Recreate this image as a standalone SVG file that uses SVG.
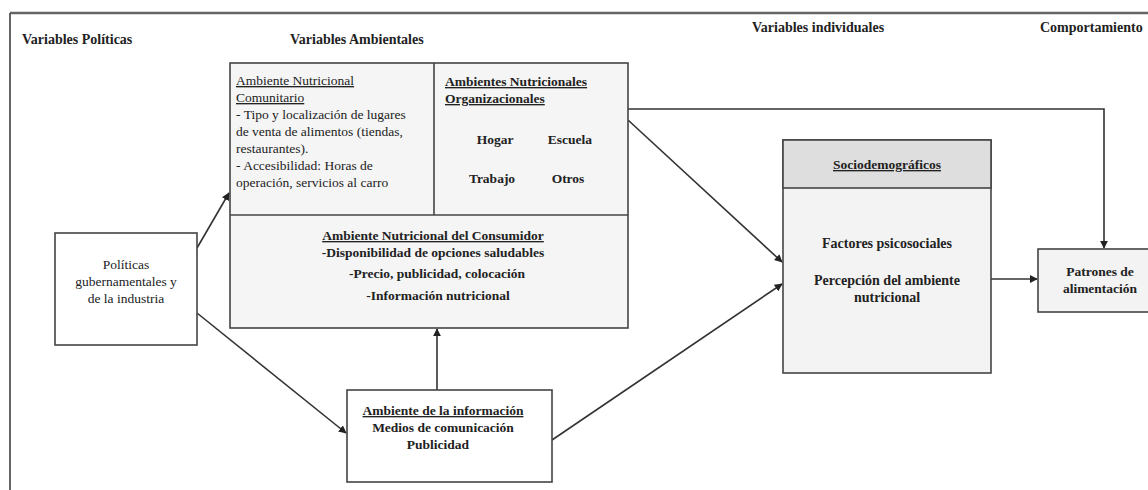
<svg xmlns="http://www.w3.org/2000/svg" width="1148" height="490" viewBox="0 0 1148 490">
<style>
text{font-family:"Liberation Serif","Times New Roman",serif;fill:#222;font-size:13.5px}
.b{font-weight:bold}
.u{text-decoration:underline}
.m{text-anchor:middle}
.h{font-size:14px;font-weight:bold}
.s{font-size:14px}
.box{stroke:#444;stroke-width:1.6}
.ln{stroke:#333;stroke-width:1.6;fill:none}
</style>
<defs>
<marker id="ah" viewBox="0 0 10 10" refX="9" refY="5" markerWidth="8" markerHeight="8" markerUnits="userSpaceOnUse" orient="auto">
<path d="M0,0 L10,5 L0,10 z" fill="#222"/>
</marker>
</defs>
<rect width="1148" height="490" fill="#fff"/>
<g id="frame">
<line x1="10" y1="13" x2="1148" y2="13" stroke="#666" stroke-width="2.5"/>
<line x1="10" y1="13" x2="10" y2="490" stroke="#555" stroke-width="1.8"/>
</g>
<g id="headers">
<text class="h" x="22" y="44">Variables Políticas</text>
<text class="h" x="290" y="44">Variables Ambientales</text>
<text class="h" x="752" y="32">Variables individuales</text>
<text class="h" x="1040" y="32">Comportamiento</text>
</g>
<g id="connectors">
<line class="ln" x1="197" y1="248" x2="229" y2="193" marker-end="url(#ah)"/>
<line class="ln" x1="197" y1="313" x2="346" y2="433" marker-end="url(#ah)"/>
<line class="ln" x1="628" y1="120" x2="782" y2="262" marker-end="url(#ah)"/>
<line class="ln" x1="552" y1="440" x2="782" y2="284" marker-end="url(#ah)"/>
<polyline class="ln" points="628,109 1104,109 1104,248" marker-end="url(#ah)"/>
<line class="ln" x1="991" y1="279" x2="1037" y2="279" marker-end="url(#ah)"/>
<line class="ln" x1="437" y1="390" x2="437" y2="329" marker-end="url(#ah)"/>
</g>
<g id="ambientes">
<rect class="box" x="230" y="63" width="398" height="265" fill="#f5f5f5"/>
<line class="box" x1="434" y1="63" x2="434" y2="215"/>
<line class="box" x1="230" y1="215" x2="628" y2="215"/>
<text class="u" x="236" y="85">Ambiente Nutricional</text>
<text class="u" x="236" y="102">Comunitario</text>
<text x="236" y="119">- Tipo y localización de lugares</text>
<text x="236" y="136">de venta de alimentos (tiendas,</text>
<text x="236" y="153">restaurantes).</text>
<text x="236" y="170">- Accesibilidad: Horas de</text>
<text x="236" y="187">operación, servicios al carro</text>
<text class="b u" x="445" y="86">Ambientes Nutricionales</text>
<text class="b u" x="445" y="103">Organizacionales</text>
<text class="b m" x="495" y="144">Hogar</text>
<text class="b m" x="570" y="144">Escuela</text>
<text class="b m" x="492" y="183">Trabajo</text>
<text class="b m" x="568" y="183">Otros</text>
<text class="b u m" x="433" y="240">Ambiente Nutricional del Consumidor</text>
<text class="b m" x="433" y="257">-Disponibilidad de opciones saludables</text>
<text class="b m" x="437" y="278">-Precio, publicidad, colocación</text>
<text class="b m" x="438" y="300">-Información nutricional</text>
</g>
<g id="politicas">
<rect class="box" x="55" y="233" width="142" height="112" fill="#fff"/>
<text class="m" x="126" y="269">Políticas</text>
<text class="m" x="126" y="286">gubernamentales y</text>
<text class="m" x="126" y="303">de la industria</text>
</g>
<g id="informacion">
<rect class="box" x="347" y="390" width="205" height="92" fill="#fff"/>
<text class="b u m" x="443" y="415">Ambiente de la información</text>
<text class="b m" x="443" y="432">Medios de comunicación</text>
<text class="b m" x="438" y="449">Publicidad</text>
</g>
<g id="sociodemograficos">
<rect class="box" x="783" y="140" width="208" height="233" fill="#f3f3f3"/>
<rect class="box" x="783" y="140" width="208" height="48" fill="#dedede"/>
<text class="b u m" x="887" y="169">Sociodemográficos</text>
<text class="b m s" x="887" y="248">Factores psicosociales</text>
<text class="b m s" x="887" y="285">Percepción del ambiente</text>
<text class="b m s" x="887" y="302">nutricional</text>
</g>
<g id="patrones">
<rect class="box" x="1038" y="249" width="115" height="63" fill="#f3f3f3"/>
<text class="b m" x="1100" y="276">Patrones de</text>
<text class="b m" x="1100" y="293">alimentación</text>
</g>
</svg>
